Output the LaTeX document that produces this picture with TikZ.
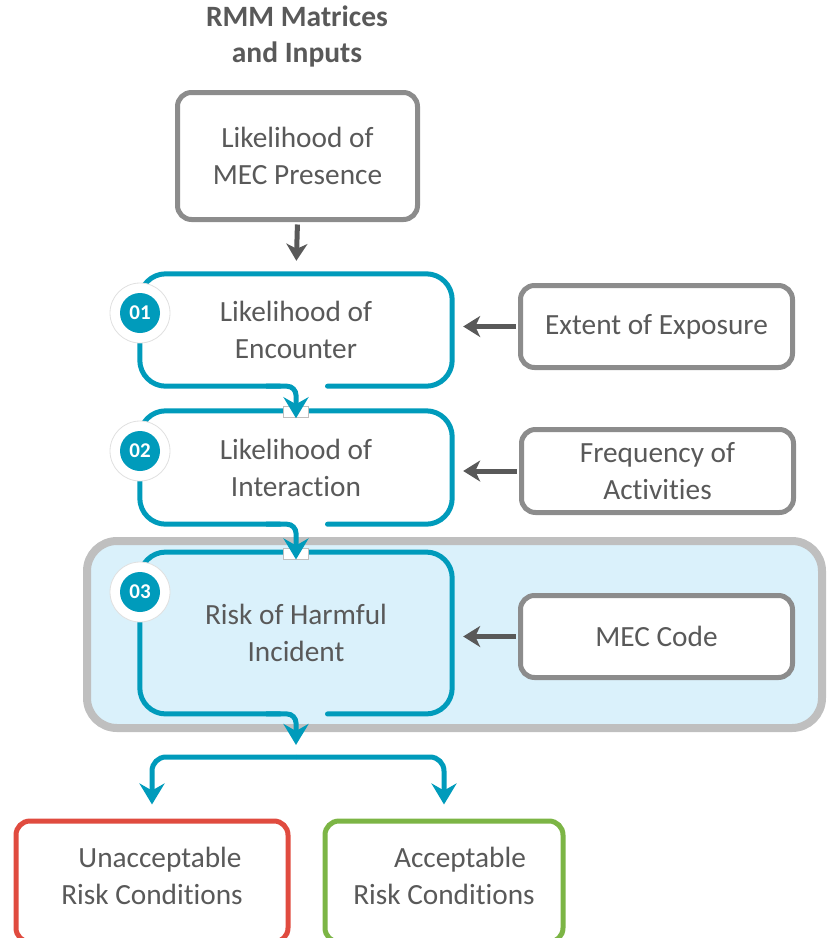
\documentclass[tikz,border=0pt]{standalone}
\usepackage{fontspec}
\setmainfont{Carlito}[Ligatures=NoCommon]
\usetikzlibrary{arrows.meta,calc}
% keep t and i as separate glyphs
\newcommand{\tisep}{t\kern0pt i}

\definecolor{flowteal}{RGB}{0,155,187}
\definecolor{inputgray}{RGB}{140,140,140}
\definecolor{textgray}{RGB}{89,89,89}
\definecolor{stagegray}{RGB}{191,191,191}
\definecolor{stagefill}{RGB}{218,241,251}
\definecolor{riskred}{RGB}{224,75,63}
\definecolor{okgreen}{RGB}{124,181,69}

\begin{document}
\begin{tikzpicture}[x=1pt,y=-1pt,
  txt/.style={font=\fontsize{29.3}{37}\selectfont, text=textgray, align=center},
  inputbox/.style={txt, draw=inputgray, line width=5pt, rounded corners=14pt,
    fill=white, inner sep=0pt, minimum width=272pt, minimum height=82pt},
  stepbox/.style={txt, inner sep=0pt, minimum width=312pt},
  outcome/.style={line width=5pt, rounded corners=14pt, fill=white, inner sep=0pt,
    minimum height=121pt},
  stepline/.style={draw=flowteal, line width=5pt, rounded corners=26pt, line cap=round},
  tealarrow/.style={draw=flowteal, line width=5pt, rounded corners=9pt,
    -{Stealth[length=21pt,width=25pt,inset=7pt]}},
  grayarrow/.style={draw=textgray, line width=5pt,
    -{Stealth[length=17pt,width=21pt,inset=5pt]}},
  gapmark/.style={fill=white, draw=black!25, line width=0.8pt, inner sep=0pt,
    minimum width=25pt, minimum height=11pt},
  badgering/.style={circle, fill=white, draw=black!12, line width=0.8pt,
    minimum size=60pt, inner sep=0pt},
  badge/.style={circle, fill=flowteal, text=white, inner sep=0pt, minimum size=40pt,
    font=\fontsize{21}{21}\selectfont\bfseries},
]
\clip (0,0) rectangle (828,938);

% heading
\node[font=\fontsize{29.5}{36}\selectfont\bfseries, text=textgray, align=center]
  (title) at (297,36) {RMM Matrices\\and Inputs};

% stage 3 background panel
\node[draw=stagegray, fill=stagefill, line width=8pt, rounded corners=30pt,
  minimum width=735pt, minimum height=187pt, inner sep=0pt] (stage) at (454.5,634.5) {};

% input boxes
\node[inputbox, minimum width=240pt, minimum height=127pt] (presence) at (297.5,156)
  {Likelihood of\\MEC Presence};
\node[inputbox] (exposure) at (656.5,326.5) {Extent of Exposure};
\node[inputbox, minimum height=83pt] (frequency) at (657.5,471)
  {Frequency of\\Ac\tisep vi\tisep es};
\node[inputbox] (code) at (656.5,636.5) {MEC Code};

% step boxes (outlines drawn below)
\node[stepbox, minimum height=112pt] (s1) at (296,330) {Likelihood of\\Encounter};
\node[stepbox, minimum height=113pt] (s2) at (296,467.5) {Likelihood of\\Interac\tisep on};
\node[stepbox, minimum height=161.5pt] (s3) at (296,633) {Risk of Harmful\\Incident};

% step outlines, open at the bottom where the flow leaves
\foreach \s in {s1,s2,s3}{
  \draw[stepline] ([xshift=31.5pt]\s.south) -- (\s.south east) -- (\s.north east)
    -- (\s.north west) -- (\s.south west) -- ([xshift=-16pt]\s.south);
}

% entry markers on the top edges
\node[gapmark] (g2) at ([yshift=-1.5pt]s2.north) {};
\node[gapmark] (g3) at ([yshift=-1.5pt]s3.north) {};

% flow between steps
\draw[tealarrow] ([xshift=-30pt]s1.south) -- (s1.south) -- (g2.south);
\draw[tealarrow] ([xshift=-30pt]s2.south) -- (s2.south) -- (g3.south);

% outcomes
\node[outcome, draw=riskred, minimum width=272pt] (unacc) at (152,881.5) {};
\node[outcome, draw=okgreen, minimum width=238pt] (acc) at (444,881.5) {};
\node[txt, yshift=6pt] (unacctext) at (unacc.center)
  {\hspace*{16pt}Unacceptable\\Risk Condi\tisep ons};
\node[txt, yshift=6pt] (acctext) at (acc.center)
  {\hspace*{32pt}Acceptable\\Risk Condi\tisep ons};

\coordinate (split) at (296,757);
\draw[tealarrow, shorten >=12pt] ([xshift=-30pt]s3.south) -- (s3.south) -- (split);
\draw[tealarrow, rounded corners=14pt, shorten >=14pt] (split) -| (unacc.north);
\draw[tealarrow, rounded corners=14pt, shorten >=14pt] (split) -| (acc.north);

% inputs feeding the steps
\draw[grayarrow, shorten <=2.5pt, shorten >=13pt] (presence.south) -- (s1.north);
\draw[grayarrow, shorten <=2.5pt, shorten >=11pt] (exposure.west) -- (exposure.west -| s1.east);
\draw[grayarrow, shorten <=2.5pt, shorten >=11pt] (frequency.west) -- (frequency.west -| s2.east);
\draw[grayarrow, shorten <=2.5pt, shorten >=11pt] (code.west) -- (code.west -| s3.east);

% step number badges
\foreach \s/\y/\n in {s1/313/01, s2/451/02, s3/592/03}{
  \node[badgering] (ring\n) at (140,\y) {};
  \node[badge] (badge\n) at (ring\n) {\n};
}
\end{tikzpicture}
\end{document}
